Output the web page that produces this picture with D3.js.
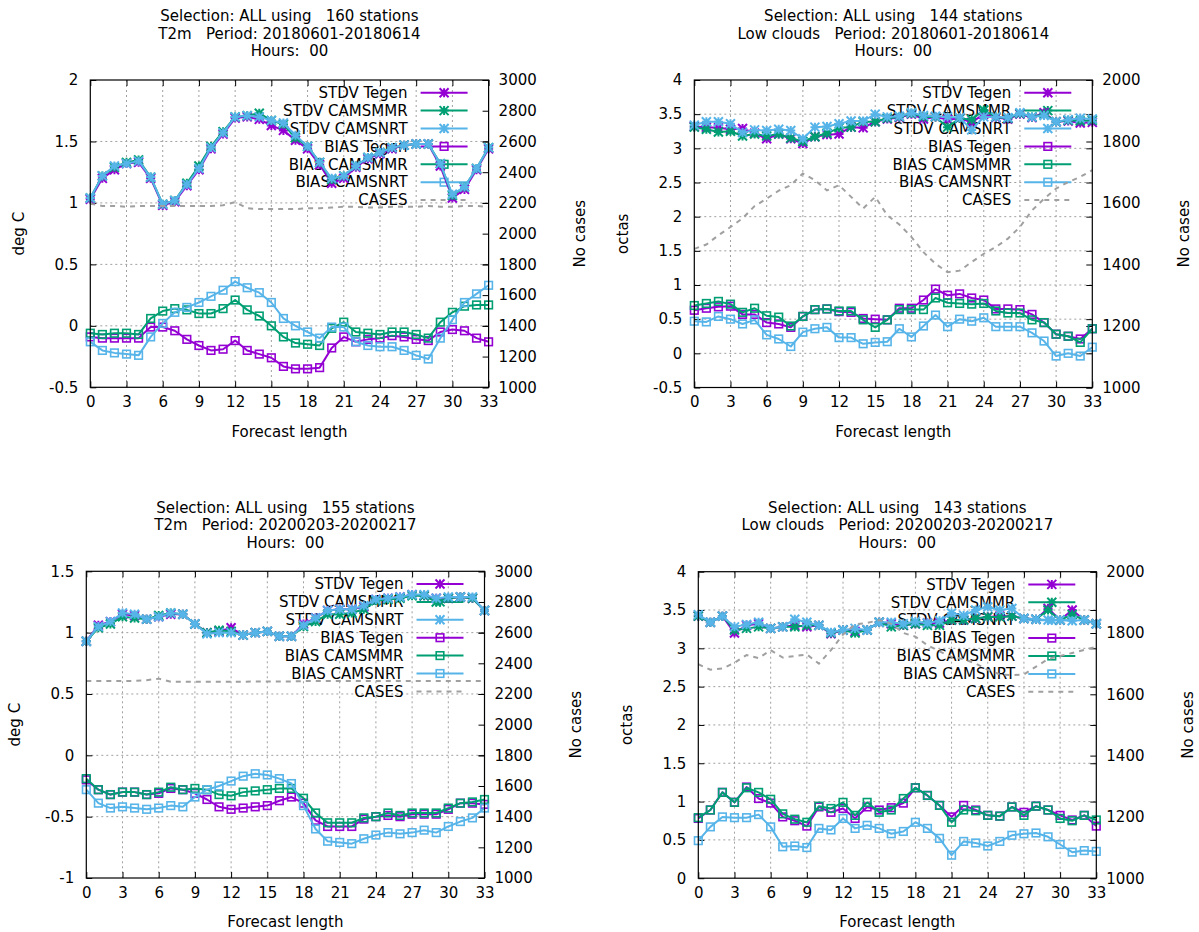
<!DOCTYPE html>
<html>
<head>
<meta charset="utf-8">
<script src="https://cdn.jsdelivr.net/npm/d3@7"></script>
<style>
  body { margin: 0; background: #fff; }
  text { font-family: "DejaVu Sans", sans-serif; font-size: 15px; fill: #000; white-space: pre; }
</style>
</head>
<body>
<div id="mainViewDiv"></div>
<script>

// ---- data ----
const leadTimes = [0,1,2,3,4,5,6,7,8,9,10,11,12,13,14,15,16,17,18,19,20,21,22,23,24,25,26,27,28,29,30,31,32,33];
const xTicks = [0,3,6,9,12,15,18,21,24,27,30,33];

const t2mTicksA = [-0.5,0,0.5,1,1.5,2];
const t2mTicksB = [-1,-0.5,0,0.5,1,1.5];
const cloudTicksA = [-0.5,0,0.5,1,1.5,2,2.5,3,3.5,4];
const cloudTicksB = [0,0.5,1,1.5,2,2.5,3,3.5,4];
const casesTicksWide = [1000,1200,1400,1600,1800,2000,2200,2400,2600,2800,3000];
const casesTicksNarrow = [1000,1200,1400,1600,1800,2000];

const seriesNames = ["STDV Tegen","STDV CAMSMMR","STDV CAMSNRT","BIAS Tegen","BIAS CAMSMMR","BIAS CAMSNRT"];

// panel 1: T2m 2018
const p1StdvTegen = [1.03,1.20,1.27,1.32,1.33,1.20,0.98,1.01,1.14,1.27,1.44,1.56,1.69,1.70,1.68,1.63,1.59,1.51,1.44,1.31,1.16,1.20,1.29,1.36,1.40,1.44,1.47,1.48,1.48,1.30,1.04,1.11,1.27,1.44];
const p1StdvMmr   = [1.04,1.22,1.29,1.33,1.35,1.21,0.99,1.02,1.16,1.30,1.46,1.58,1.70,1.71,1.73,1.67,1.64,1.53,1.46,1.33,1.19,1.22,1.30,1.37,1.41,1.45,1.47,1.48,1.48,1.32,1.06,1.13,1.28,1.45];
const p1StdvNrt   = [1.04,1.22,1.30,1.32,1.34,1.21,0.99,1.02,1.15,1.28,1.45,1.57,1.70,1.71,1.70,1.67,1.65,1.55,1.46,1.33,1.20,1.22,1.30,1.37,1.41,1.45,1.47,1.48,1.48,1.32,1.07,1.13,1.28,1.45];
const p1BiasTegen = [-0.09,-0.10,-0.10,-0.10,-0.10,-0.01,-0.01,-0.04,-0.11,-0.16,-0.20,-0.19,-0.12,-0.20,-0.23,-0.26,-0.33,-0.35,-0.35,-0.34,-0.18,-0.09,-0.13,-0.11,-0.10,-0.08,-0.09,-0.11,-0.12,-0.05,-0.03,-0.04,-0.10,-0.13];
const p1BiasMmr   = [-0.06,-0.07,-0.06,-0.06,-0.07,0.06,0.12,0.14,0.13,0.10,0.10,0.14,0.21,0.13,0.08,0.00,-0.09,-0.14,-0.15,-0.16,-0.02,0.03,-0.05,-0.06,-0.07,-0.05,-0.05,-0.07,-0.10,0.03,0.11,0.16,0.17,0.17];
const p1BiasNrt   = [-0.13,-0.20,-0.22,-0.23,-0.24,-0.09,0.02,0.11,0.15,0.19,0.24,0.29,0.36,0.31,0.27,0.19,0.06,0.00,-0.05,-0.10,-0.01,-0.01,-0.13,-0.16,-0.17,-0.17,-0.20,-0.24,-0.27,-0.10,0.05,0.19,0.26,0.33];
const p1Cases     = [2195,2180,2180,2175,2180,2180,2180,2180,2180,2180,2180,2185,2205,2165,2160,2160,2160,2160,2165,2165,2170,2175,2175,2170,2170,2175,2175,2175,2180,2175,2175,2180,2180,2175];

// panel 2: low clouds 2018
const p2StdvTegen = [3.32,3.31,3.30,3.28,3.29,3.22,3.14,3.21,3.14,3.07,3.17,3.20,3.21,3.31,3.30,3.39,3.43,3.45,3.50,3.43,3.46,3.42,3.44,3.38,3.50,3.45,3.43,3.50,3.45,3.52,3.39,3.40,3.37,3.38];
const p2StdvMmr   = [3.31,3.28,3.24,3.25,3.18,3.21,3.18,3.21,3.15,3.10,3.17,3.22,3.30,3.31,3.39,3.39,3.44,3.46,3.51,3.46,3.46,3.31,3.44,3.42,3.56,3.46,3.44,3.51,3.46,3.50,3.39,3.41,3.40,3.41];
const p2StdvNrt   = [3.34,3.39,3.39,3.36,3.23,3.27,3.26,3.28,3.26,3.14,3.31,3.32,3.36,3.40,3.40,3.50,3.46,3.47,3.52,3.48,3.47,3.46,3.45,3.27,3.46,3.46,3.45,3.52,3.46,3.48,3.39,3.42,3.44,3.43];
const p2BiasTegen = [0.63,0.66,0.68,0.69,0.57,0.57,0.45,0.43,0.38,0.54,0.64,0.65,0.61,0.60,0.51,0.50,0.49,0.66,0.66,0.78,0.94,0.85,0.87,0.81,0.78,0.65,0.65,0.64,0.57,0.45,0.28,0.25,0.21,0.36];
const p2BiasMmr   = [0.70,0.73,0.76,0.72,0.60,0.66,0.55,0.53,0.40,0.54,0.64,0.65,0.62,0.62,0.49,0.38,0.49,0.64,0.64,0.64,0.81,0.74,0.73,0.72,0.73,0.62,0.59,0.59,0.49,0.45,0.28,0.25,0.16,0.36];
const p2BiasNrt   = [0.47,0.46,0.54,0.50,0.43,0.49,0.27,0.21,0.10,0.31,0.36,0.38,0.23,0.23,0.14,0.16,0.17,0.36,0.24,0.40,0.56,0.39,0.50,0.47,0.52,0.39,0.39,0.39,0.30,0.18,-0.04,0.00,-0.04,0.09];
const p2Cases     = [1451,1465,1495,1522,1550,1590,1614,1640,1658,1696,1674,1641,1658,1620,1582,1620,1560,1530,1490,1440,1402,1375,1380,1408,1435,1457,1484,1522,1576,1614,1647,1668,1685,1707];

// panel 3: T2m 2020
const p3StdvTegen = [0.93,1.06,1.09,1.15,1.14,1.11,1.13,1.15,1.15,1.07,1.00,1.01,1.04,0.98,1.00,1.01,0.97,0.97,1.07,1.12,1.18,1.19,1.19,1.21,1.27,1.28,1.29,1.31,1.30,1.28,1.28,1.29,1.28,1.18];
const p3StdvMmr   = [0.93,1.04,1.07,1.13,1.12,1.11,1.14,1.16,1.15,1.07,1.00,1.02,1.01,0.98,1.00,1.01,0.97,0.97,1.05,1.09,1.15,1.15,1.16,1.19,1.26,1.27,1.28,1.30,1.30,1.25,1.28,1.29,1.28,1.18];
const p3StdvNrt   = [0.93,1.05,1.09,1.16,1.15,1.11,1.13,1.16,1.15,1.07,0.99,1.00,1.00,0.98,1.00,1.01,0.97,0.97,1.06,1.12,1.18,1.19,1.19,1.22,1.27,1.28,1.29,1.31,1.31,1.28,1.29,1.29,1.29,1.18];
const p3BiasTegen = [-0.20,-0.28,-0.32,-0.30,-0.30,-0.32,-0.31,-0.27,-0.28,-0.31,-0.36,-0.42,-0.44,-0.43,-0.42,-0.41,-0.37,-0.34,-0.39,-0.53,-0.58,-0.58,-0.58,-0.52,-0.50,-0.49,-0.50,-0.48,-0.48,-0.48,-0.44,-0.39,-0.39,-0.40];
const p3BiasMmr   = [-0.19,-0.28,-0.32,-0.30,-0.30,-0.32,-0.30,-0.26,-0.28,-0.27,-0.28,-0.32,-0.33,-0.30,-0.29,-0.28,-0.27,-0.27,-0.35,-0.47,-0.55,-0.55,-0.55,-0.51,-0.50,-0.47,-0.49,-0.47,-0.47,-0.47,-0.43,-0.39,-0.38,-0.36];
const p3BiasNrt   = [-0.28,-0.39,-0.43,-0.42,-0.43,-0.44,-0.43,-0.41,-0.42,-0.34,-0.28,-0.25,-0.21,-0.17,-0.15,-0.16,-0.19,-0.23,-0.41,-0.60,-0.70,-0.71,-0.72,-0.68,-0.65,-0.63,-0.64,-0.63,-0.61,-0.63,-0.58,-0.54,-0.51,-0.43];
const p3Cases     = [2285,2285,2285,2285,2285,2290,2300,2280,2280,2280,2280,2280,2280,2280,2282,2282,2282,2282,2284,2284,2284,2285,2285,2285,2285,2285,2285,2285,2285,2285,2285,2285,2285,2285];

// panel 4: low clouds 2020
const p4StdvTegen = [3.42,3.34,3.42,3.20,3.30,3.32,3.26,3.28,3.30,3.28,3.30,3.19,3.24,3.22,3.24,3.34,3.32,3.30,3.32,3.33,3.33,3.37,3.37,3.39,3.41,3.42,3.42,3.39,3.38,3.52,3.37,3.50,3.37,3.32];
const p4StdvMmr   = [3.42,3.34,3.42,3.24,3.26,3.28,3.26,3.28,3.28,3.30,3.30,3.20,3.24,3.20,3.24,3.34,3.28,3.30,3.32,3.30,3.30,3.37,3.37,3.39,3.41,3.41,3.42,3.39,3.38,3.50,3.37,3.44,3.37,3.32];
const p4StdvNrt   = [3.44,3.34,3.42,3.28,3.31,3.34,3.26,3.28,3.38,3.34,3.30,3.21,3.24,3.26,3.24,3.34,3.34,3.32,3.35,3.33,3.36,3.46,3.43,3.50,3.54,3.50,3.52,3.39,3.38,3.37,3.37,3.36,3.37,3.32];
const p4BiasTegen = [0.78,0.89,1.12,0.99,1.19,1.04,0.98,0.80,0.75,0.68,0.93,0.86,0.91,0.78,0.93,0.89,0.92,0.98,1.18,1.08,0.95,0.80,0.95,0.89,0.82,0.81,0.93,0.86,0.94,0.89,0.82,0.76,0.82,0.68];
const p4BiasMmr   = [0.79,0.89,1.12,0.99,1.18,1.12,1.03,0.84,0.77,0.73,0.94,0.91,0.99,0.82,0.99,0.86,0.89,1.04,1.18,1.08,0.95,0.73,0.89,0.88,0.82,0.81,0.93,0.82,0.94,0.89,0.78,0.75,0.82,0.76];
const p4BiasNrt   = [0.49,0.67,0.80,0.79,0.79,0.83,0.67,0.41,0.42,0.40,0.65,0.63,0.78,0.65,0.69,0.65,0.58,0.61,0.73,0.65,0.52,0.30,0.48,0.46,0.42,0.48,0.56,0.58,0.59,0.54,0.44,0.34,0.36,0.35];
const p4Cases     = [1698,1680,1684,1703,1728,1718,1744,1720,1725,1730,1700,1744,1795,1828,1833,1842,1830,1800,1788,1760,1740,1722,1715,1700,1680,1665,1662,1665,1690,1715,1725,1735,1745,1755];

// ---- drawing ----
const colors = ["#9400d3","#009e73","#56b4e9","#9400d3","#009e73","#56b4e9"];
const markers = ["star","star","star","square","square","square"];
const casesColor = "#a0a0a0";

const panels = [
    { title: ["Selection: ALL using   160 stations", "T2m   Period: 20180601-20180614", "Hours:  00"],
      ylabel: "deg C", yDomain: [-0.5, 2], yTicks: t2mTicksA, y2Domain: [1000, 3000], y2Ticks: casesTicksWide,
      series: [p1StdvTegen, p1StdvMmr, p1StdvNrt, p1BiasTegen, p1BiasMmr, p1BiasNrt], cases: p1Cases,
      left: 90.3, right: 488.6, top: 80, bottom: 387.3 },
    { title: ["Selection: ALL using   144 stations", "Low clouds   Period: 20180601-20180614", "Hours:  00"],
      ylabel: "octas", yDomain: [-0.5, 4], yTicks: cloudTicksA, y2Domain: [1000, 2000], y2Ticks: casesTicksNarrow,
      series: [p2StdvTegen, p2StdvMmr, p2StdvNrt, p2BiasTegen, p2BiasMmr, p2BiasNrt], cases: p2Cases,
      left: 694.3, right: 1092.3, top: 80, bottom: 387.5 },
    { title: ["Selection: ALL using   155 stations", "T2m   Period: 20200203-20200217", "Hours:  00"],
      ylabel: "deg C", yDomain: [-1, 1.5], yTicks: t2mTicksB, y2Domain: [1000, 3000], y2Ticks: casesTicksWide,
      series: [p3StdvTegen, p3StdvMmr, p3StdvNrt, p3BiasTegen, p3BiasMmr, p3BiasNrt], cases: p3Cases,
      left: 86.3, right: 484.5, top: 571.3, bottom: 878 },
    { title: ["Selection: ALL using   143 stations", "Low clouds   Period: 20200203-20200217", "Hours:  00"],
      ylabel: "octas", yDomain: [0, 4], yTicks: cloudTicksB, y2Domain: [1000, 2000], y2Ticks: casesTicksNarrow,
      series: [p4StdvTegen, p4StdvMmr, p4StdvNrt, p4BiasTegen, p4BiasMmr, p4BiasNrt], cases: p4Cases,
      left: 698.3, right: 1096.3, top: 571.7, bottom: 878.2 }
];

const svg = d3.select("#mainViewDiv").append("svg")
              .attr("width", 1199)
              .attr("height", 932)
              .style("display", "block");

svg.append("rect").attr("width", 1199).attr("height", 932).attr("fill", "white");

function drawMarker(g, type, x, y, color) {
    if (type == "star") {
        let s = 4.5;
        g.append("path")
         .attr("d", `M${x-s},${y}H${x+s}M${x},${y-s}V${y+s}M${x-s},${y-s}L${x+s},${y+s}M${x-s},${y+s}L${x+s},${y-s}`)
         .attr("stroke", color).attr("stroke-width", 2).attr("fill", "none");
    } else {
        g.append("rect")
         .attr("x", x - 3.8).attr("y", y - 3.8)
         .attr("width", 7.6).attr("height", 7.6)
         .attr("stroke", color).attr("stroke-width", 1.6).attr("fill", "none");
    }
}

function drawPanel(p) {
    let g = svg.append("g");
    let w = p.right - p.left;

    let x = d3.scaleLinear().domain([0, 33]).range([p.left, p.right]);
    let y = d3.scaleLinear().domain(p.yDomain).range([p.bottom, p.top]);
    let y2 = d3.scaleLinear().domain(p.y2Domain).range([p.bottom, p.top]);

    // grid
    let inner = p.yTicks.filter(d => d > p.yDomain[0] && d < p.yDomain[1]);
    let innerX = xTicks.filter(d => d > 0 && d < 33);
    g.append("g").selectAll("line").data(inner).join("line")
     .attr("x1", p.left).attr("x2", p.right)
     .attr("y1", d => y(d)).attr("y2", d => y(d))
     .attr("stroke", "#a0a0a0").attr("stroke-width", 1).attr("stroke-dasharray", "2,3");
    g.append("g").selectAll("line").data(innerX).join("line")
     .attr("x1", d => x(d)).attr("x2", d => x(d))
     .attr("y1", p.top).attr("y2", p.bottom)
     .attr("stroke", "#a0a0a0").attr("stroke-width", 1).attr("stroke-dasharray", "2,3");

    // axes
    let fmt = d => String(d);
    g.append("g").attr("transform", `translate(${p.left},0)`)
     .call(d3.axisLeft(y).tickValues(p.yTicks).tickFormat(fmt).tickSize(-6).tickPadding(12));
    g.append("g").attr("transform", `translate(${p.right},0)`)
     .call(d3.axisRight(y).tickValues(p.yTicks).tickFormat("").tickSize(-6));
    g.append("g").attr("transform", `translate(${p.right},0)`)
     .call(d3.axisRight(y2).tickValues(p.y2Ticks).tickFormat(fmt).tickSize(-6).tickPadding(10));
    g.append("g").attr("transform", `translate(0,${p.bottom})`)
     .call(d3.axisBottom(x).tickValues(xTicks).tickFormat(fmt).tickSize(-6).tickPadding(9));
    g.append("g").attr("transform", `translate(0,${p.top})`)
     .call(d3.axisTop(x).tickValues(xTicks).tickFormat("").tickSize(-6));
    g.selectAll(".domain").remove();
    g.selectAll(".tick line").attr("stroke", "black");
    g.selectAll(".tick text").style("font-size", "15px").attr("fill", "black")
     .style("font-family", "DejaVu Sans, sans-serif");

    // titles and labels
    let cx = (p.left + p.right) / 2;
    p.title.forEach((t, i) => {
        g.append("text").attr("x", cx).attr("y", p.top - 64 + i * 17.5)
         .attr("text-anchor", "middle").attr("dy", "0.35em").text(t);
    });
    g.append("text").attr("x", cx).attr("y", p.bottom + 44)
     .attr("text-anchor", "middle").attr("dy", "0.35em").text("Forecast length");
    let cy = (p.top + p.bottom) / 2;
    g.append("text").attr("transform", `translate(${p.left - 72},${cy}) rotate(-90)`)
     .attr("text-anchor", "middle").attr("dy", "0.35em").text(p.ylabel);
    g.append("text").attr("transform", `translate(${p.right + 91},${cy}) rotate(-90)`)
     .attr("text-anchor", "middle").attr("dy", "0.35em").text("No cases");

    // legend
    let key = g.append("g");
    let names = seriesNames.concat(["CASES"]);
    names.forEach((name, i) => {
        let ky = p.top + 12.7 + i * 17.9;
        key.append("text").attr("x", p.right - 81).attr("y", ky)
           .attr("text-anchor", "end").attr("dy", "0.35em").text(name);
        let sample = key.append("line")
           .attr("x1", p.right - 68).attr("x2", p.right - 21)
           .attr("y1", ky).attr("y2", ky)
           .attr("stroke-width", 2);
        if (i < 6) {
            sample.attr("stroke", colors[i]);
            drawMarker(key, markers[i], p.right - 44.5, ky, colors[i]);
        } else {
            sample.attr("stroke", casesColor).attr("stroke-dasharray", "5,5");
        }
    });

    // data
    let line = d3.line().x((d, i) => x(leadTimes[i])).y(d => y(d));
    p.series.forEach((vals, s) => {
        let sg = g.append("g");
        sg.append("path").datum(vals)
          .attr("d", line)
          .attr("fill", "none")
          .attr("stroke", colors[s])
          .attr("stroke-width", 2)
          .attr("stroke-linejoin", "round");
        vals.forEach((v, i) => drawMarker(sg, markers[s], x(leadTimes[i]), y(v), colors[s]));
    });

    let caseLine = d3.line().x((d, i) => x(leadTimes[i])).y(d => y2(d));
    g.append("path").datum(p.cases)
     .attr("d", caseLine)
     .attr("fill", "none")
     .attr("stroke", casesColor)
     .attr("stroke-width", 2)
     .attr("stroke-dasharray", "5,5");

    // border
    g.append("rect").attr("x", p.left).attr("y", p.top)
     .attr("width", w).attr("height", p.bottom - p.top)
     .attr("fill", "none").attr("stroke", "black").attr("stroke-width", 1.2);
}

panels.forEach(drawPanel);

</script>
</body>
</html>
